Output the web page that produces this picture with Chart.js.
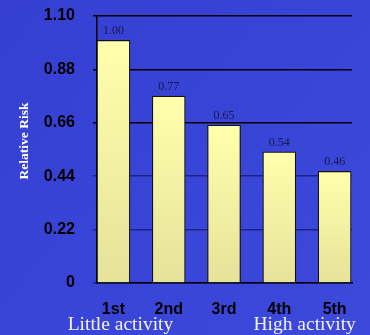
<!DOCTYPE html>
<html>
<head>
<meta charset="utf-8">
<script src="https://cdn.jsdelivr.net/npm/chart.js@4/dist/chart.umd.min.js"></script>
<style>
  html, body { margin: 0; padding: 0; background: #3a46d8; }
  #wrap { width: 370px; height: 335px; position: relative; }
</style>
</head>
<body>
<div id="wrap"><canvas id="chart" width="370" height="335"></canvas></div>
<script>
// Quintiles of physical activity and their relative risk
const categories = ['1st', '2nd', '3rd', '4th', '5th'];
const relativeRisk = [1.00, 0.77, 0.65, 0.54, 0.46];
const yTickLabels = ['0', '0.22', '0.44', '0.66', '0.88', '1.10'];
const groupLabels = ['Little activity', 'High activity'];
const axisTitle = 'Relative Risk';

// Slide-style blue background
const backgroundPlugin = {
  id: 'slideBackground',
  beforeDraw(chart) {
    const { ctx, width, height } = chart;
    ctx.save();
    const g = ctx.createLinearGradient(0, 0, width, height);
    g.addColorStop(0, '#3540d3');
    g.addColorStop(1, '#3c49db');
    ctx.fillStyle = g;
    ctx.fillRect(0, 0, width, height);
    ctx.restore();
  }
};

// Value above each bar, plus the rotated axis title and the activity captions
const annotationPlugin = {
  id: 'annotations',
  afterDatasetsDraw(chart) {
    const { ctx } = chart;
    const meta = chart.getDatasetMeta(0);
    ctx.save();
    ctx.font = '12px "Liberation Serif", "Times New Roman", serif';
    ctx.fillStyle = '#16184a';
    ctx.textAlign = 'center';
    ctx.textBaseline = 'alphabetic';
    meta.data.forEach((bar, i) => {
      ctx.fillText(relativeRisk[i].toFixed(2), bar.x, bar.y - 6);
    });
    ctx.restore();
  },
  afterDraw(chart) {
    const { ctx, chartArea } = chart;
    const xs = chart.scales.x;
    ctx.save();
    // y-axis title
    ctx.translate(24.5, 141);
    ctx.rotate(-Math.PI / 2);
    ctx.font = 'bold 13.5px "Liberation Serif", "Times New Roman", serif';
    ctx.fillStyle = '#ffffff';
    ctx.textAlign = 'center';
    ctx.textBaseline = 'middle';
    ctx.fillText(axisTitle, 0, 0);
    ctx.restore();

    ctx.save();
    ctx.font = '19.5px "Liberation Serif", "Times New Roman", serif';
    ctx.fillStyle = '#f2f2f8';
    ctx.textBaseline = 'alphabetic';
    ctx.textAlign = 'center';
    ctx.fillText(groupLabels[0], xs.getPixelForValue(0) + 7, chartArea.bottom + 46.5);
    ctx.fillText(groupLabels[1], xs.getPixelForValue(4) - 30, chartArea.bottom + 46.5);
    ctx.restore();
  }
};

function gridColour(ctx) {
  const v = ctx.tick ? ctx.tick.value : 0;
  return v > 0.6 ? '#000000' : '#1b2486';
}

new Chart(document.getElementById('chart'), {
  type: 'bar',
  data: {
    datasets: [{
      data: relativeRisk.map((v, i) => ({ x: i, y: v })),
      backgroundColor(ctx) {
        const chart = ctx.chart;
        if (!chart.chartArea || ctx.raw == null) return '#f6f3a4';
        const ys = chart.scales.y;
        const top = ys.getPixelForValue(ctx.raw.y);
        const bottom = ys.getPixelForValue(0);
        const g = chart.ctx.createLinearGradient(0, top, 0, bottom);
        g.addColorStop(0, '#ffffac');
        g.addColorStop(1, '#e6e29a');
        return g;
      },
      borderColor: '#111111',
      borderWidth: 1.2,
      borderSkipped: 'bottom',
      barThickness: 33
    }]
  },
  options: {
    responsive: false,
    animation: false,
    devicePixelRatio: 1,
    layout: { padding: { top: 16, right: 18, left: 0, bottom: 0 } },
    plugins: {
      legend: { display: false },
      tooltip: { enabled: false }
    },
    scales: {
      x: {
        type: 'linear',
        offset: false,
        min: -0.297,
        max: 4.314,
        afterFit(scale) {
          scale.height = 52;
          scale.paddingLeft = 0;
          scale.paddingRight = 0;
        },
        grid: { display: false, drawTicks: false, offset: false },
        border: { display: true, color: '#000000', width: 1.5 },
        ticks: {
          stepSize: 1,
          includeBounds: false,
          padding: 17,
          color: '#000000',
          font: { family: '"Liberation Sans", Arial, sans-serif', size: 16, weight: 'bold' },
          callback(value) {
            return Number.isInteger(value) ? categories[value] : '';
          }
        }
      },
      y: {
        min: 0,
        max: 1.10,
        afterFit(scale) {
          scale.width = 97;
          scale.paddingTop = 10;
          scale.paddingBottom = 10;
        },
        grid: {
          color: gridColour,
          tickColor: gridColour,
          lineWidth: 1.5,
          tickLength: 4
        },
        border: { display: true, color: '#000000', width: 1.5 },
        ticks: {
          stepSize: 0.22,
          padding: 18,
          color: '#000000',
          font: { family: '"Liberation Sans", Arial, sans-serif', size: 16, weight: 'bold' },
          callback(value, index) { return yTickLabels[index]; }
        }
      }
    }
  },
  plugins: [backgroundPlugin, annotationPlugin]
});
</script>
</body>
</html>
